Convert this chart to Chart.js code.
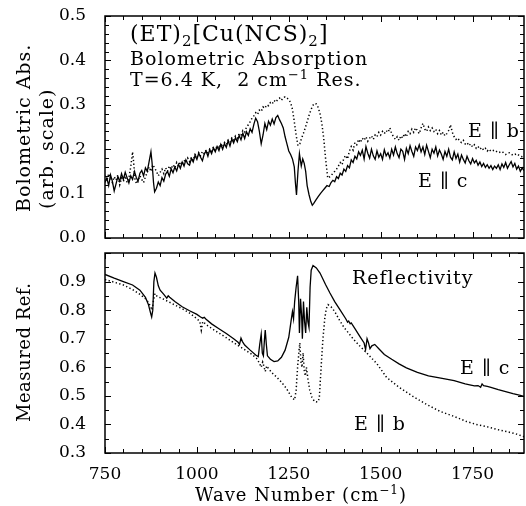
<!DOCTYPE html>
<html><head><meta charset="utf-8">
<script src="https://cdn.jsdelivr.net/npm/chart.js@4.4.0/dist/chart.umd.min.js"></script>
<style>
html,body{margin:0;padding:0;background:#fff;}
#wrap{position:relative;width:526px;height:506px;overflow:hidden;background:#fff;}
#top{position:absolute;left:0;top:0;}
#bot{position:absolute;left:0;top:240px;}
</style></head><body>
<div id="wrap">
<canvas id="top" width="526" height="250"></canvas>
<canvas id="bot" width="526" height="266"></canvas>
</div>
<script>
// ---------- tick labels ----------
const waveTicks = [750, 1000, 1250, 1500, 1750];
const absTicks = [0.0, 0.1, 0.2, 0.3, 0.4, 0.5];
const refTicks = [0.3, 0.4, 0.5, 0.6, 0.7, 0.8, 0.9];

// ---------- Bolometric absorption, E || c (solid) ----------
const absWaveC = [
 750,755,760,765,770,775,780,785,790,795,
 800,805,810,815,820,825,830,835,840,845,
 850,855,860,865,870,875,878,882,885,890,
 895,900,905,910,915,920,925,930,935,940,
 945,950,955,960,965,970,975,980,985,990,
 995,1000,1005,1010,1015,1020,1025,1030,1035,1040,
 1045,1050,1055,1060,1065,1070,1075,1080,1085,1090,
 1095,1100,1105,1110,1115,1120,1125,1130,1135,1140,
 1145,1150,1155,1160,1165,1170,1175,1180,1185,1190,
 1195,1200,1205,1210,1215,1220,1225,1230,1235,1240,
 1245,1250,1255,1260,1265,1268,1271,1275,1279,1284,
 1288,1292,1296,1300,1305,1310,1314,1318,1324,1330,
 1336,1342,1348,1354,1360,1365,1370,1375,1380,1385,
 1390,1395,1400,1405,1410,1415,1420,1425,1430,1435,
 1440,1445,1450,1455,1460,1465,1470,1475,1480,1485,
 1490,1495,1500,1505,1510,1515,1520,1525,1530,1535,
 1540,1545,1550,1555,1560,1565,1570,1575,1580,1585,
 1590,1595,1600,1605,1610,1615,1620,1625,1630,1635,
 1640,1645,1650,1655,1660,1665,1670,1675,1680,1685,
 1690,1695,1700,1705,1710,1715,1720,1725,1730,1735,
 1740,1745,1750,1755,1760,1765,1770,1775,1780,1785,
 1790,1795,1800,1805,1810,1815,1820,1825,1830,1835,
 1840,1845,1850,1855,1860,1865,1870,1875,1880,1885,
 1890];
const absC = [
 .125,.135,.118,.142,.128,.106,.122,.138,.128,.145,
 .132,.148,.136,.124,.140,.132,.150,.137,.128,.146,
 .152,.140,.158,.150,.172,.194,.170,.125,.104,.112,
 .126,.118,.136,.128,.144,.150,.139,.156,.147,.160,
 .151,.166,.157,.171,.162,.176,.167,.164,.179,.171,
 .186,.177,.191,.182,.174,.189,.196,.184,.199,.190,
 .203,.194,.206,.197,.211,.200,.213,.204,.219,.207,
 .223,.214,.226,.217,.231,.221,.236,.224,.239,.231,
 .246,.238,.256,.270,.262,.240,.212,.232,.258,.244,
 .263,.254,.268,.257,.271,.276,.266,.258,.248,.228,
 .212,.196,.188,.178,.160,.125,.097,.150,.190,.162,
 .178,.168,.150,.118,.098,.082,.074,.078,.086,.093,
 .100,.106,.112,.118,.116,.125,.130,.127,.138,.134,
 .146,.142,.155,.150,.163,.158,.176,.170,.184,.178,
 .194,.186,.198,.178,.206,.191,.180,.200,.185,.177,
 .196,.182,.190,.177,.199,.185,.192,.180,.200,.187,
 .205,.190,.181,.200,.195,.177,.202,.190,.208,.195,
 .184,.205,.197,.210,.194,.205,.188,.209,.195,.181,
 .200,.191,.205,.185,.198,.189,.177,.195,.184,.200,
 .182,.176,.194,.179,.189,.171,.187,.177,.169,.184,
 .174,.167,.179,.169,.175,.164,.171,.161,.168,.159,
 .165,.157,.163,.154,.162,.157,.165,.154,.167,.159,
 .170,.157,.165,.172,.160,.168,.155,.162,.150,.158,
 .152];

// ---------- Bolometric absorption, E || b (dotted) ----------
const absWaveB = [
 750,755,760,765,770,775,780,785,790,795,
 800,805,810,815,820,825,828,832,836,840,
 845,850,855,860,865,870,875,880,885,890,
 895,900,905,910,915,920,925,930,935,940,
 945,950,955,960,965,970,975,980,985,990,
 995,1000,1005,1010,1015,1020,1025,1030,1035,1040,
 1045,1050,1055,1060,1065,1070,1075,1080,1085,1090,
 1095,1100,1105,1110,1115,1120,1125,1130,1135,1140,
 1145,1150,1155,1160,1165,1170,1175,1180,1185,1190,
 1195,1200,1205,1210,1215,1220,1225,1230,1235,1240,
 1245,1250,1255,1260,1265,1270,1275,1280,1285,1290,
 1295,1300,1305,1310,1315,1320,1325,1330,1335,1340,
 1345,1350,1356,1360,1365,1370,1375,1380,1385,1390,
 1395,1400,1405,1410,1415,1420,1425,1430,1435,1440,
 1445,1450,1455,1460,1465,1470,1475,1480,1485,1490,
 1495,1500,1505,1510,1515,1520,1525,1530,1535,1540,
 1545,1550,1555,1560,1565,1570,1575,1580,1585,1590,
 1595,1600,1605,1610,1615,1620,1625,1630,1635,1640,
 1645,1650,1655,1660,1665,1670,1675,1680,1685,1690,
 1695,1700,1705,1710,1715,1720,1725,1730,1735,1740,
 1745,1750,1755,1760,1765,1770,1775,1780,1785,1790,
 1795,1800,1810,1820,1830,1840,1850,1860,1870,1880,
 1890];
const absB = [
 .140,.128,.145,.135,.125,.138,.130,.142,.120,.135,
 .128,.140,.125,.135,.160,.194,.170,.130,.122,.130,
 .140,.132,.125,.138,.148,.160,.150,.165,.158,.150,
 .140,.148,.155,.145,.158,.150,.162,.155,.165,.158,
 .170,.162,.172,.165,.175,.170,.180,.172,.182,.175,
 .188,.182,.192,.185,.195,.190,.198,.192,.200,.195,
 .205,.198,.208,.202,.212,.205,.215,.210,.220,.215,
 .225,.220,.230,.225,.235,.232,.242,.238,.250,.255,
 .262,.270,.275,.282,.278,.288,.285,.295,.292,.300,
 .298,.305,.302,.310,.306,.312,.315,.310,.316,.318,
 .315,.312,.305,.290,.262,.232,.208,.212,.225,.236,
 .248,.262,.276,.288,.298,.303,.302,.294,.280,.258,
 .225,.180,.135,.137,.140,.146,.150,.155,.162,.170,
 .165,.180,.186,.178,.196,.206,.198,.215,.210,.222,
 .215,.225,.220,.228,.218,.225,.230,.222,.232,.228,
 .238,.232,.240,.235,.242,.238,.248,.235,.228,.222,
 .228,.220,.230,.225,.235,.228,.240,.235,.245,.238,
 .248,.242,.235,.248,.258,.245,.240,.250,.242,.248,
 .240,.245,.235,.242,.232,.238,.230,.235,.242,.255,
 .238,.228,.222,.225,.218,.215,.220,.212,.215,.208,
 .212,.205,.210,.202,.206,.200,.204,.198,.202,.196,
 .200,.195,.198,.192,.195,.188,.192,.186,.190,.184,
 .182];

// ---------- Measured reflectivity, E || c (solid) ----------
const refWaveC = [
 750,775,800,825,845,860,868,874,877,880,
 883,886,890,895,900,910,918,922,926,940,
 960,980,1000,1010,1016,1020,1025,1040,1060,1080,
 1100,1112,1116,1120,1124,1130,1145,1160,1167,1171,
 1175,1178,1181,1184,1186,1189,1192,1200,1210,1220,
 1230,1240,1250,1256,1260,1263,1266,1270,1274,1277,
 1279,1282,1285,1287,1290,1293,1296,1299,1302,1305,
 1308,1311,1316,1325,1335,1350,1362,1375,1390,1405,
 1410,1413,1417,1420,1430,1445,1455,1459,1463,1467,
 1471,1476,1484,1495,1510,1530,1550,1570,1600,1630,
 1660,1700,1730,1755,1765,1772,1776,1780,1790,1800,
 1820,1840,1860,1880,1890];
const refC = [
 .925,.912,.900,.888,.870,.845,.820,.790,.776,.800,
 .900,.930,.915,.885,.870,.855,.842,.850,.845,.830,
 .812,.798,.785,.776,.772,.775,.768,.752,.735,.718,
 .700,.688,.680,.702,.690,.678,.660,.643,.637,.680,
 .716,.650,.640,.700,.730,.680,.640,.628,.620,.622,
 .635,.660,.705,.760,.795,.770,.830,.880,.920,.830,
 .720,.840,.780,.700,.830,.760,.720,.810,.760,.740,
 .880,.940,.956,.948,.930,.890,.860,.830,.800,.770,
 .758,.762,.752,.755,.735,.705,.685,.662,.700,.685,
 .665,.675,.680,.665,.645,.628,.612,.598,.582,.570,
 .563,.553,.542,.535,.536,.530,.542,.536,.533,.530,
 .522,.515,.508,.502,.498];

// ---------- Measured reflectivity, E || b (dotted) ----------
const refWaveB = [
 750,775,800,825,845,860,868,874,878,882,
 886,892,910,934,960,980,1000,1008,1012,1016,
 1030,1050,1070,1090,1110,1130,1150,1162,1170,1175,
 1179,1182,1186,1190,1195,1205,1215,1230,1243,1252,
 1258,1262,1266,1270,1274,1278,1280,1283,1286,1289,
 1292,1295,1298,1302,1307,1313,1320,1328,1333,1338,
 1343,1348,1352,1357,1365,1375,1388,1400,1425,1445,
 1461,1490,1516,1550,1589,1625,1661,1700,1734,1760,
 1789,1815,1843,1870,1890];
const refB = [
 .907,.898,.888,.872,.855,.840,.828,.812,.800,.835,
 .858,.848,.838,.822,.805,.790,.770,.760,.730,.760,
 .745,.728,.712,.695,.678,.662,.645,.632,.615,.600,
 .618,.605,.585,.605,.595,.580,.568,.548,.527,.508,
 .495,.490,.486,.520,.600,.660,.685,.620,.600,.650,
 .590,.570,.600,.560,.520,.495,.480,.478,.490,.600,
 .700,.772,.805,.819,.812,.795,.765,.740,.700,.672,
 .652,.612,.565,.530,.497,.470,.446,.428,.410,.400,
 .392,.383,.375,.366,.357];

// ---------- helpers ----------
const FONT = "'DejaVu Serif', 'Liberation Serif', serif";
const pts = (xs, ys) => xs.map((x, i) => ({ x: x, y: ys[i] }));

const solidStyle = { borderColor: '#000', borderWidth: 1.3, pointRadius: 0, tension: 0, fill: false };
const dotStyle = { borderColor: '#000', borderWidth: 1.5, pointRadius: 0, tension: 0, fill: false, borderDash: [1.3, 2.4] };

function noPad(s) { s.paddingTop = 0; s.paddingBottom = 0; s.paddingLeft = 0; s.paddingRight = 0; }

const framePlugin = {
  id: 'frame',
  afterDraw(chart, args, opts) {
    const { ctx, chartArea: a } = chart;
    const x = chart.scales.x, y = chart.scales.y;
    ctx.save();
    ctx.strokeStyle = '#000';
    ctx.lineWidth = 1.5;
    ctx.strokeRect(a.left, a.top, a.right - a.left, a.bottom - a.top);
    ctx.lineWidth = 1;
    ctx.beginPath();
    for (let v = 750; v <= 1890; v += 50) {
      const px = Math.round(x.getPixelForValue(v)) + 0.5;
      const len = (v % 250 === 0) ? 6 : 4;
      ctx.moveTo(px, a.bottom); ctx.lineTo(px, a.bottom - len);
      ctx.moveTo(px, a.top); ctx.lineTo(px, a.top + len);
    }
    const step = opts.yMinor;
    for (let k = 0; ; k++) {
      const v = y.min + k * step;
      if (v > y.max + 1e-9) break;
      const py = Math.round(y.getPixelForValue(v)) + 0.5;
      const major = Math.abs(v * 10 - Math.round(v * 10)) < 1e-6;
      const len = major ? 6 : 4;
      ctx.moveTo(a.left, py); ctx.lineTo(a.left + len, py);
      ctx.moveTo(a.right, py); ctx.lineTo(a.right - len, py);
    }
    ctx.stroke();
    ctx.restore();
  }
};

function rich(ctx, x, y, parts, spacing) {
  ctx.letterSpacing = spacing + 'px';
  ctx.textAlign = 'left';
  ctx.textBaseline = 'alphabetic';
  let cx = x;
  for (const p of parts) {
    ctx.font = p[1] + 'px ' + FONT;
    ctx.fillText(p[0], cx, y + p[2]);
    cx += ctx.measureText(p[0]).width;
  }
}
function vtext(ctx, x, y, text, size, spacing) {
  ctx.save();
  ctx.letterSpacing = spacing + 'px';
  ctx.translate(x, y);
  ctx.rotate(-Math.PI / 2);
  ctx.font = size + 'px ' + FONT;
  ctx.textAlign = 'left';
  ctx.textBaseline = 'middle';
  ctx.fillText(text, 0, 0);
  ctx.restore();
}

const topText = {
  id: 'topText',
  afterDraw(chart) {
    const ctx = chart.ctx;
    ctx.save();
    ctx.fillStyle = '#000';
    rich(ctx, 130, 41, [['(ET)', 22, 0], ['2', 15, 5], ['[Cu(NCS)', 22, 0], ['2', 15, 5], [']', 22, 0]], 1);
    rich(ctx, 130, 65, [['Bolometric Absorption', 19, 0]], 1);
    rich(ctx, 130, 86, [['T=6.4 K,  2 cm', 19, 0], ['\u22121', 13, -7], [' Res.', 19, 0]], 1);
    rich(ctx, 468, 137, [['E \u2225 b', 19, 0]], 1);
    rich(ctx, 418, 187, [['E \u2225 c', 19, 0]], 1);
    vtext(ctx, 25, 212, 'Bolometric Abs.', 19, 1);
    vtext(ctx, 48, 209, '(arb. scale)', 19, 1);
    ctx.restore();
  }
};
const botText = {
  id: 'botText',
  afterDraw(chart) {
    const ctx = chart.ctx;
    ctx.save();
    ctx.fillStyle = '#000';
    rich(ctx, 352, 44, [['Reflectivity', 19, 0]], 1);
    rich(ctx, 460, 134, [['E \u2225 c', 19, 0]], 1);
    rich(ctx, 354, 190, [['E \u2225 b', 19, 0]], 1);
    vtext(ctx, 25, 182, 'Measured Ref.', 18, 0.5);
    rich(ctx, 195, 261, [['Wave Number (cm', 18, 0], ['\u22121', 12, -7], [')', 18, 0]], 1);
    ctx.restore();
  }
};

const yTickFont = { family: FONT, size: 17 };

new Chart(document.getElementById('top'), {
  type: 'line',
  data: { datasets: [
    Object.assign({ label: 'E \u2225 c', data: pts(absWaveC, absC) }, solidStyle),
    Object.assign({ label: 'E \u2225 b', data: pts(absWaveB, absB) }, dotStyle)
  ]},
  options: {
    responsive: false, animation: false, events: [],
    layout: { padding: { top: 16, right: 2, bottom: 12, left: 0 } },
    plugins: { legend: { display: false }, tooltip: { enabled: false }, frame: { yMinor: 0.02 } },
    scales: {
      x: { type: 'linear', min: 750, max: 1890, display: false },
      y: {
        type: 'linear', min: 0, max: 0.5,
        afterBuildTicks: s => { s.ticks = absTicks.map(v => ({ value: v })); },
        afterFit: s => { s.width = 105; noPad(s); },
        grid: { display: false }, border: { display: false },
        ticks: { font: yTickFont, color: '#000', padding: 11, callback: v => Number(v).toFixed(1) }
      }
    }
  },
  plugins: [framePlugin, topText]
});

new Chart(document.getElementById('bot'), {
  type: 'line',
  data: { datasets: [
    Object.assign({ label: 'E \u2225 c', data: pts(refWaveC, refC) }, solidStyle),
    Object.assign({ label: 'E \u2225 b', data: pts(refWaveB, refB) }, dotStyle)
  ]},
  options: {
    responsive: false, animation: false, events: [],
    layout: { padding: { top: 13, right: 2, bottom: 0, left: 0 } },
    plugins: { legend: { display: false }, tooltip: { enabled: false }, frame: { yMinor: 0.05 } },
    scales: {
      x: {
        type: 'linear', min: 750, max: 1890,
        afterBuildTicks: s => { s.ticks = waveTicks.map(v => ({ value: v })); },
        afterFit: s => { s.height = 53; noPad(s); },
        grid: { display: false }, border: { display: false },
        ticks: { font: { family: FONT, size: 17 }, color: '#000', padding: 3, maxRotation: 0, callback: v => String(v) }
      },
      y: {
        type: 'linear', min: 0.3, max: 1.0,
        afterBuildTicks: s => { s.ticks = refTicks.map(v => ({ value: v })); },
        afterFit: s => { s.width = 105; noPad(s); },
        grid: { display: false }, border: { display: false },
        ticks: { font: yTickFont, color: '#000', padding: 11, callback: v => Number(v).toFixed(1) }
      }
    }
  },
  plugins: [framePlugin, botText]
});
</script>
</body></html>
